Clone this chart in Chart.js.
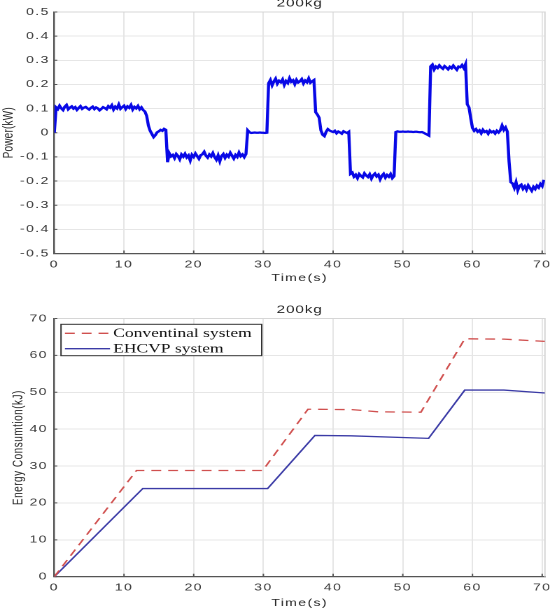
<!DOCTYPE html>
<html>
<head>
<meta charset="utf-8">
<script src="https://cdn.jsdelivr.net/npm/chart.js@4.4.0/dist/chart.umd.min.js"></script>
<style>
  html, body { margin: 0; padding: 0; background: #fff; }
  #page { position: relative; width: 557px; height: 609px; overflow: hidden; }
  .panel { position: absolute; left: 0; }
  .panel canvas { transform: scaleX(1.3995); transform-origin: 0 0; }
</style>
</head>
<body>
<div id="page">
  <div class="panel" style="top:0"><canvas id="powerChart" width="398" height="290"></canvas></div>
  <div class="panel" style="top:290px"><canvas id="energyChart" width="398" height="319"></canvas></div>
</div>
<script>
// the figure is drawn narrow and stretched sideways, like the original
const STRETCH = 557 / 398;

// power trace, one sample every POWER_DT seconds (each row = 2 s)
const POWER_DT = 0.25;
const powerKW = [
  0.000, 0.105, 0.098, 0.112, 0.101, 0.094, 0.108, 0.115,
  0.097, 0.104, 0.109, 0.100, 0.106, 0.095, 0.103, 0.110,
  0.099, 0.104, 0.107, 0.101, 0.096, 0.103, 0.108, 0.098,
  0.105, 0.101, 0.093, 0.099, 0.106, 0.102, 0.097, 0.110,
  0.104, 0.114, 0.096, 0.108, 0.101, 0.117, 0.099, 0.106,
  0.112, 0.098, 0.109, 0.103, 0.115, 0.096, 0.107, 0.101,
  0.111, 0.097, 0.105, 0.094, 0.088, 0.070, 0.030, 0.008,
  -0.005, -0.018, -0.010, 0.002, 0.006, 0.012, 0.008, 0.016,
  0.012, -0.122, -0.085, -0.098, -0.092, -0.105, -0.088, -0.096,
  -0.110, -0.090, -0.099, -0.087, -0.102, -0.094, -0.115, -0.091,
  -0.100, -0.086, -0.097, -0.108, -0.093, -0.089, -0.079, -0.095,
  -0.103, -0.090, -0.098, -0.084, -0.101, -0.112, -0.094, -0.118,
  -0.096, -0.088, -0.104, -0.091, -0.099, -0.083, -0.095, -0.107,
  -0.092, -0.100, -0.082, -0.097, -0.090, -0.101, -0.088, 0.010,
  0.002, -0.001, 0.000, 0.001, 0.000, 0.000, 0.001, 0.000,
  0.000, -0.001, 0.000, 0.205, 0.218, 0.196, 0.212, 0.224,
  0.203, 0.215, 0.209, 0.221, 0.198, 0.214, 0.206, 0.226,
  0.211, 0.217, 0.201, 0.219, 0.208, 0.213, 0.222, 0.204,
  0.216, 0.209, 0.225, 0.207, 0.213, 0.218, 0.085, 0.075,
  0.062, 0.010, -0.008, -0.014, 0.004, 0.015, 0.009, 0.006,
  0.003, 0.008, -0.002, 0.005, 0.001, -0.004, 0.006, 0.002,
  -0.001, 0.004, -0.170, -0.165, -0.182, -0.174, -0.188, -0.171,
  -0.179, -0.185, -0.168, -0.177, -0.183, -0.172, -0.190, -0.176,
  -0.169, -0.181, -0.174, -0.193, -0.178, -0.170, -0.186, -0.175,
  -0.182, -0.171, -0.188, -0.180, 0.003, 0.006, 0.004, 0.004,
  0.005, 0.004, 0.004, 0.005, 0.004, 0.004, 0.003, 0.004,
  0.004, 0.003, 0.002, 0.003, 0.000, -0.004, -0.008, -0.012,
  0.275, 0.282, 0.262, 0.274, 0.268, 0.279, 0.271, 0.265,
  0.276, 0.270, 0.263, 0.273, 0.267, 0.278, 0.269, 0.261,
  0.274, 0.271, 0.280, 0.268, 0.284, 0.118, 0.105, 0.060,
  0.020, 0.008, 0.015, 0.004, 0.010, -0.002, 0.012, 0.003,
  0.007, -0.004, 0.009, 0.002, 0.006, -0.003, 0.008, 0.001,
  0.010, 0.030, 0.012, 0.022, 0.005, -0.120, -0.205, -0.210,
  -0.228, -0.205, -0.238, -0.220, -0.215, -0.232, -0.222, -0.236,
  -0.218, -0.229, -0.240, -0.224, -0.233, -0.219, -0.227, -0.212,
  -0.221, -0.195
];

const timeTicks = [0, 10, 20, 30, 40, 50, 60, 70];
const powerTicks = [-0.5, -0.4, -0.3, -0.2, -0.1, 0, 0.1, 0.2, 0.3, 0.4, 0.5];
const energyTicks = [0, 10, 20, 30, 40, 50, 60, 70];

// energy curves (kJ) at their corner points
const convTime = [0, 11.8, 29.9, 36.4, 42.7, 46.5, 52.6, 58.9, 64.5, 70.4];
const convKJ   = [0, 28.8, 28.8, 45.4, 45.3, 44.7, 44.6, 64.5, 64.4, 63.8];
const ehcvpTime = [0, 12.7, 30.6, 37.4, 42.5, 53.7, 58.9, 64.5, 70.4];
const ehcvpKJ   = [0, 23.9, 23.9, 38.3, 38.2, 37.5, 50.6, 50.6, 49.8];
const seriesNames = ['Conventinal system', 'EHCVP system'];

const tickFont = { family: '"Liberation Sans", Arial, sans-serif', size: 10 };

function pairs(xs, ys) {
  return ys.map((v, i) => ({ x: xs[i], y: v }));
}

function drawLegend(chart, o) {
  const ctx = chart.ctx, a = chart.chartArea;
  const bx = a.left + 4.8, by = a.top + 5.8, bw = 143.4, bh = 31.4;
  ctx.save();
  ctx.letterSpacing = '0px';
  ctx.fillStyle = '#fff';
  ctx.fillRect(bx, by, bw, bh);
  ctx.strokeStyle = '#333';
  ctx.lineWidth = 1;
  ctx.strokeRect(bx, by, bw, bh);
  ctx.font = '12.5px "Liberation Serif", "Times New Roman", serif';
  ctx.textBaseline = 'middle';
  ctx.textAlign = 'left';
  chart.data.datasets.forEach((ds, i) => {
    const ry = by + 9 + i * 15.4;
    ctx.strokeStyle = ds.borderColor;
    ctx.lineWidth = ds.borderWidth;
    ctx.setLineDash(ds.borderDash || []);
    ctx.beginPath();
    ctx.moveTo(bx + 2.8, ry);
    ctx.lineTo(bx + 35, ry);
    ctx.stroke();
    ctx.setLineDash([]);
    ctx.fillStyle = '#111';
    ctx.fillText(ds.label, bx + 37.3, ry + 0.5);
  });
  ctx.restore();
}

const matlabAxes = {
  id: 'matlabAxes',
  beforeDraw(chart) {
    chart.ctx.letterSpacing = '1px';
  },
  beforeDatasetsDraw(chart) {
    const ctx = chart.ctx, a = chart.chartArea;
    const xs = chart.scales.x, ys = chart.scales.y;
    ctx.save();
    ctx.strokeStyle = '#d6d6d6';
    ctx.lineWidth = 1;
    ctx.beginPath();
    ctx.moveTo(a.left, a.top);
    ctx.lineTo(a.right, a.top);
    ctx.lineTo(a.right, a.bottom);
    ctx.stroke();
    // inward tick marks
    ctx.strokeStyle = '#555';
    ctx.beginPath();
    xs.ticks.forEach(t => {
      const px = xs.getPixelForValue(t.value);
      ctx.moveTo(px, a.bottom);
      ctx.lineTo(px, a.bottom - 3);
    });
    ys.ticks.forEach(t => {
      const py = ys.getPixelForValue(t.value);
      ctx.moveTo(a.left, py);
      ctx.lineTo(a.left + 3 / STRETCH, py);
    });
    ctx.stroke();
    ctx.restore();
  },
  afterDraw(chart, args, o) {
    const ctx = chart.ctx, a = chart.chartArea;
    const cx = (a.left + a.right) / 2;
    ctx.save();
    ctx.fillStyle = '#262626';
    ctx.textAlign = 'center';
    ctx.letterSpacing = '0.6px';
    ctx.font = '11px "Liberation Sans", Arial, sans-serif';
    ctx.textBaseline = 'alphabetic';
    ctx.fillText(o.title, cx, a.top - 5.5);
    ctx.letterSpacing = '1px';
    ctx.font = '10px "Liberation Sans", Arial, sans-serif';
    ctx.textBaseline = 'middle';
    ctx.fillText(o.xTitle, cx, a.bottom + o.xTitleGap);
    ctx.letterSpacing = o.yTitleSpacing + 'px';
    ctx.translate(o.yTitleX, (a.top + a.bottom) / 2);
    ctx.rotate(-Math.PI / 2);
    ctx.fillText(o.yTitle, 0, 0);
    ctx.restore();
    if (o.legend) drawLegend(chart, o);
    ctx.letterSpacing = '0px';
  }
};

function axisOptions(ticksList, min, max, fit, pad) {
  return {
    type: 'linear',
    min: min,
    max: max,
    bounds: 'data',
    afterBuildTicks: s => { s.ticks = ticksList.map(v => ({ value: v })); },
    afterFit: fit,
    grid: { color: '#e6e6e6', lineWidth: 1, drawTicks: false },
    border: { color: '#555', width: 1.2 },
    ticks: {
      padding: pad,
      font: tickFont,
      color: '#3a3a3a',
      maxRotation: 0,
      autoSkip: false,
      callback: v => String(v)
    }
  };
}

new Chart(document.getElementById('powerChart'), {
  type: 'line',
  data: {
    datasets: [{
      label: 'Power',
      data: powerKW.map((v, i) => ({ x: i * POWER_DT, y: v })),
      borderColor: 'rgb(8,8,230)',
      borderWidth: 2.2,
      pointRadius: 0,
      tension: 0
    }]
  },
  options: {
    responsive: false,
    animation: false,
    devicePixelRatio: 2,
    layout: { padding: { left: 0, right: 398 - 547 / STRETCH, top: 12, bottom: 0 } },
    plugins: {
      legend: { display: false },
      tooltip: { enabled: false },
      matlabAxes: { title: '200kg', xTitle: 'Time(s)', xTitleGap: 24.7, yTitle: 'Power(kW)', yTitleX: 6, yTitleSpacing: 0.2 }
    },
    scales: {
      x: axisOptions(timeTicks, 0, 70.4, s => { s.height = 290 - 253.5; }, 5),
      y: axisOptions(powerTicks, -0.5, 0.5, s => { s.width = 54.3 / STRETCH; }, 3.3)
    }
  },
  plugins: [matlabAxes]
});

new Chart(document.getElementById('energyChart'), {
  type: 'line',
  data: {
    datasets: [{
      label: seriesNames[0],
      data: pairs(convTime, convKJ),
      borderColor: '#d0504f',
      borderWidth: 1.3,
      borderDash: [7, 5],
      pointRadius: 0,
      tension: 0
    }, {
      label: seriesNames[1],
      data: pairs(ehcvpTime, ehcvpKJ),
      borderColor: '#3b3ba6',
      borderWidth: 1.3,
      pointRadius: 0,
      tension: 0
    }]
  },
  options: {
    responsive: false,
    animation: false,
    devicePixelRatio: 2,
    layout: { padding: { left: 0, right: 398 - 547 / STRETCH, top: 28.5, bottom: 0 } },
    plugins: {
      legend: { display: false },
      tooltip: { enabled: false },
      matlabAxes: { title: '200kg', xTitle: 'Time(s)', xTitleGap: 26.3, yTitle: 'Energy Consumtion(kJ)', yTitleX: 13, yTitleSpacing: 0.5, legend: true }
    },
    scales: {
      x: axisOptions(timeTicks, 0, 70.4, s => { s.height = 319 - 286.7; }, 5),
      y: axisOptions(energyTicks, 0, 70, s => { s.width = 54.3 / STRETCH; }, 4.6)
    }
  },
  plugins: [matlabAxes]
});
</script>
</body>
</html>
